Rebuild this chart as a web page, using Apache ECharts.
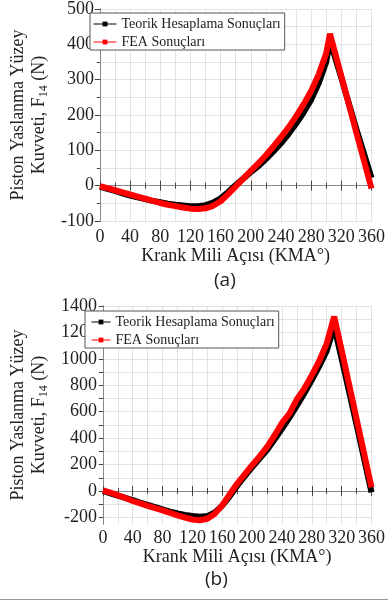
<!DOCTYPE html>
<html>
<head>
<meta charset="utf-8">
<script src="https://cdn.jsdelivr.net/npm/echarts@6/dist/echarts.min.js"></script>
<style>
  html, body { margin: 0; padding: 0; background: #fff; }
  #chart { width: 388px; height: 601px; }
</style>
</head>
<body>
<div id="chart"></div>
<script>
/* ── Data (a) ─────────────────────────────────────── */
const anglesA = [0, 10, 20, 30, 40, 50, 60, 70, 80, 90, 100, 110, 120, 130, 140, 150, 160, 170, 180, 190, 200, 210, 220, 230, 240, 250, 260, 270, 280, 290, 300, 305, 320, 340, 360];
const teorikA = [-3, -9, -15, -22, -28, -33, -38, -43, -47, -51, -54, -56, -58, -58, -55, -48, -36, -18, 2, 20, 38, 55, 75, 97, 120, 146, 175, 207, 243, 290, 350, 410, 305, 160, 22];
const feaA = [-1, -7, -13, -19, -25, -31, -37, -43, -49, -54, -58, -62, -65, -66, -64, -57, -44, -24, -2, 20, 42, 63, 86, 111, 137, 165, 196, 230, 268, 315, 375, 430, 310, 150, -8];

/* ── Data (b) ─────────────────────────────────────── */
const anglesB = [0, 10, 20, 30, 40, 50, 60, 70, 80, 90, 100, 110, 120, 130, 140, 150, 160, 170, 180, 190, 200, 210, 220, 230, 240, 250, 260, 270, 280, 290, 300, 310, 320, 340, 360];
const teorikB = [0, -18, -36, -53, -70, -88, -105, -122, -140, -156, -170, -182, -190, -195, -190, -162, -110, -40, 40, 110, 180, 245, 310, 390, 470, 555, 645, 740, 840, 945, 1060, 1245, 1000, 500, -10];
const feaB = [5, -13, -32, -53, -76, -94, -112, -130, -147, -166, -184, -202, -216, -222, -210, -172, -109, -25, 56, 125, 195, 262, 334, 420, 515, 585, 695, 775, 877, 985, 1117, 1320, 1065, 545, 28];

/* ── Tick values ───────────────────────────────────── */
const yLabelsB = [-200, 0, 200, 400, 600, 800, 1000, 1200, 1400];
const yTicksB = [-200, -100, 0, 100, 200, 300, 400, 500, 600, 700, 800, 900, 1000, 1100, 1200, 1300, 1400];

const NAME_T = "Teorik Hesaplama Sonuçları";
const NAME_F = "FEA Sonuçları";

const SERIF = "Liberation Serif";
const AXIS_COLOR = "#444";
const GRID_COLOR = "#e2e2e2";
const TEXT = "#222";

const zip = (xs, ys) => xs.map((x, i) => [x, ys[i]]);

const serif = (size) => ({ fontFamily: SERIF, fontSize: size, fontWeight: "normal", color: TEXT });
const labelStyle = (margin, extra) => ({
  margin, formatter: (v) => "{s|" + v + "}",
  rich: { s: serif(18) }, ...serif(18), ...extra,
});

function xAxes(grid) {
  const base = {
    gridIndex: grid, type: "value", min: 0, max: 360, interval: 40,
    axisLine: { lineStyle: { color: AXIS_COLOR, width: 1 } },
    axisTick: { inside: true, length: 5, lineStyle: { color: AXIS_COLOR } },
    minorTick: { show: true, splitNumber: 2, length: 3, lineStyle: { color: AXIS_COLOR } },
  };
  return [
    {
      ...base,
      position: "bottom",
      splitLine: { show: true, lineStyle: { color: GRID_COLOR } },
      minorSplitLine: { show: true, lineStyle: { color: GRID_COLOR } },
      axisLabel: labelStyle(grid === 0 ? 7 : 5, { hideOverlap: false }),
      name: "{n|Krank Mili Açısı (KMA°)}",
      nameLocation: "middle",
      nameGap: grid === 0 ? 26 : 24,
      nameTextStyle: { ...serif(18), rich: { n: serif(18) } },
    },
    { ...base, position: "top", axisLabel: { show: false }, splitLine: { show: false }, axisLine: { lineStyle: { color: "#888" } } },
  ];
}

const yName = "{m|Piston Yaslanma Yüzey}\n{m|Kuvveti, F}{sub|14}{m| (N)}";
const yNameStyle = {
  ...serif(18), lineHeight: 21,
  rich: {
    m: { ...serif(18), lineHeight: 21 },
    sub: { ...serif(12), verticalAlign: "bottom", lineHeight: 21, padding: [6, 0, 0, 0] },
  },
};

const yAxes = [
  /* (a) */
  {
    gridIndex: 0, type: "value", min: -100, max: 500, interval: 100, position: "left",
    axisLine: { show: true, lineStyle: { color: AXIS_COLOR } },
    axisTick: { show: true, length: 5, lineStyle: { color: AXIS_COLOR } },
    minorTick: { show: true, splitNumber: 2, length: 3, lineStyle: { color: AXIS_COLOR } },
    splitLine: { show: true, lineStyle: { color: GRID_COLOR } },
    minorSplitLine: { show: true, lineStyle: { color: GRID_COLOR } },
    axisLabel: labelStyle(6),
    name: yName, nameLocation: "middle", nameGap: 36, nameTextStyle: yNameStyle,
  },
  {
    gridIndex: 0, type: "value", min: -100, max: 500, interval: 100, position: "right",
    axisLine: { show: true, lineStyle: { color: "#888" } },
    axisTick: { show: true, inside: true, length: 5, lineStyle: { color: AXIS_COLOR } },
    minorTick: { show: true, splitNumber: 2, length: 3, lineStyle: { color: AXIS_COLOR } },
    splitLine: { show: false }, axisLabel: { show: false },
  },
  /* (b) */
  {
    gridIndex: 1, type: "value", min: -250, max: 1400, position: "left",
    axisLine: { show: true, lineStyle: { color: AXIS_COLOR } },
    axisTick: { show: true, length: 4, customValues: yTicksB, lineStyle: { color: AXIS_COLOR } },
    splitLine: { show: true, lineStyle: { color: GRID_COLOR } },
    axisLabel: labelStyle(6, { customValues: yLabelsB }),
    name: yName, nameLocation: "middle", nameGap: 42, nameTextStyle: yNameStyle,
  },
  {
    gridIndex: 1, type: "value", min: -250, max: 1400, position: "right",
    axisLine: { show: true, lineStyle: { color: "#888" } },
    axisTick: { show: true, inside: true, length: 4, customValues: yTicksB, lineStyle: { color: AXIS_COLOR } },
    splitLine: { show: false }, axisLabel: { show: false },
  },
];

function legend(left, top, padLeft, itemWidth) {
  return {
    data: [NAME_T, NAME_F],
    orient: "vertical",
    left, top,
    padding: [4, 4, 1, padLeft],
    itemGap: 4,
    itemWidth, itemHeight: 6, itemTextGap: 2,
    backgroundColor: "#fff",
    borderColor: "#555", borderWidth: 1,
    lineStyle: { width: 1 },
    textStyle: serif(14),
    selectedMode: false,
  };
}

function series(name, xIdx, yIdx, data, color, z) {
  return {
    name, type: "line", xAxisIndex: xIdx, yAxisIndex: yIdx,
    data, symbol: "rect", symbolSize: 4, showSymbol: false,
    lineStyle: { color, width: 6 }, itemStyle: { color },
    z, animation: false,
  };
}

function draw() {
  const chart = echarts.init(document.getElementById("chart"));
  chart.setOption({
    animation: false,
    grid: [
      { left: 88, top: 9, width: 285, height: 212 },
      { left: 83, top: 306, width: 294, height: 218 },
    ],
    xAxis: [...xAxes(0), ...xAxes(1)],
    yAxis: yAxes,
    legend: [legend(90, 13, 3, 23), legend(85, 311, 6, 19)],
    series: [
      series(NAME_T, 0, 0, zip(anglesA, teorikA), "#000", 2),
      series(NAME_F, 0, 0, zip(anglesA, feaA), "#ff0000", 3),
      series(NAME_T, 2, 2, zip(anglesB, teorikB), "#000", 2),
      series(NAME_F, 2, 2, zip(anglesB, feaB), "#ff0000", 3),
    ],
    graphic: [
      { type: "text", left: 214, top: 271, style: { text: "(a)", fontFamily: "Open Sans", fontSize: 19, fill: TEXT } },
      { type: "text", left: 205, top: 570, style: { text: "(b)", fontFamily: "Open Sans", fontSize: 19, fill: TEXT } },
      { type: "line", shape: { x1: 0, y1: 599.5, x2: 388, y2: 599.5 }, style: { stroke: "#999", lineWidth: 1 } },
    ],
  });
}

/* make sure the serif face is ready before the canvas paints text */
if (document.fonts && document.fonts.load) {
  Promise.all([
    document.fonts.load("18px 'Liberation Serif'"),
    document.fonts.load("19px 'Open Sans'"),
  ]).then(draw, draw);
} else {
  draw();
}
</script>
</body>
</html>
